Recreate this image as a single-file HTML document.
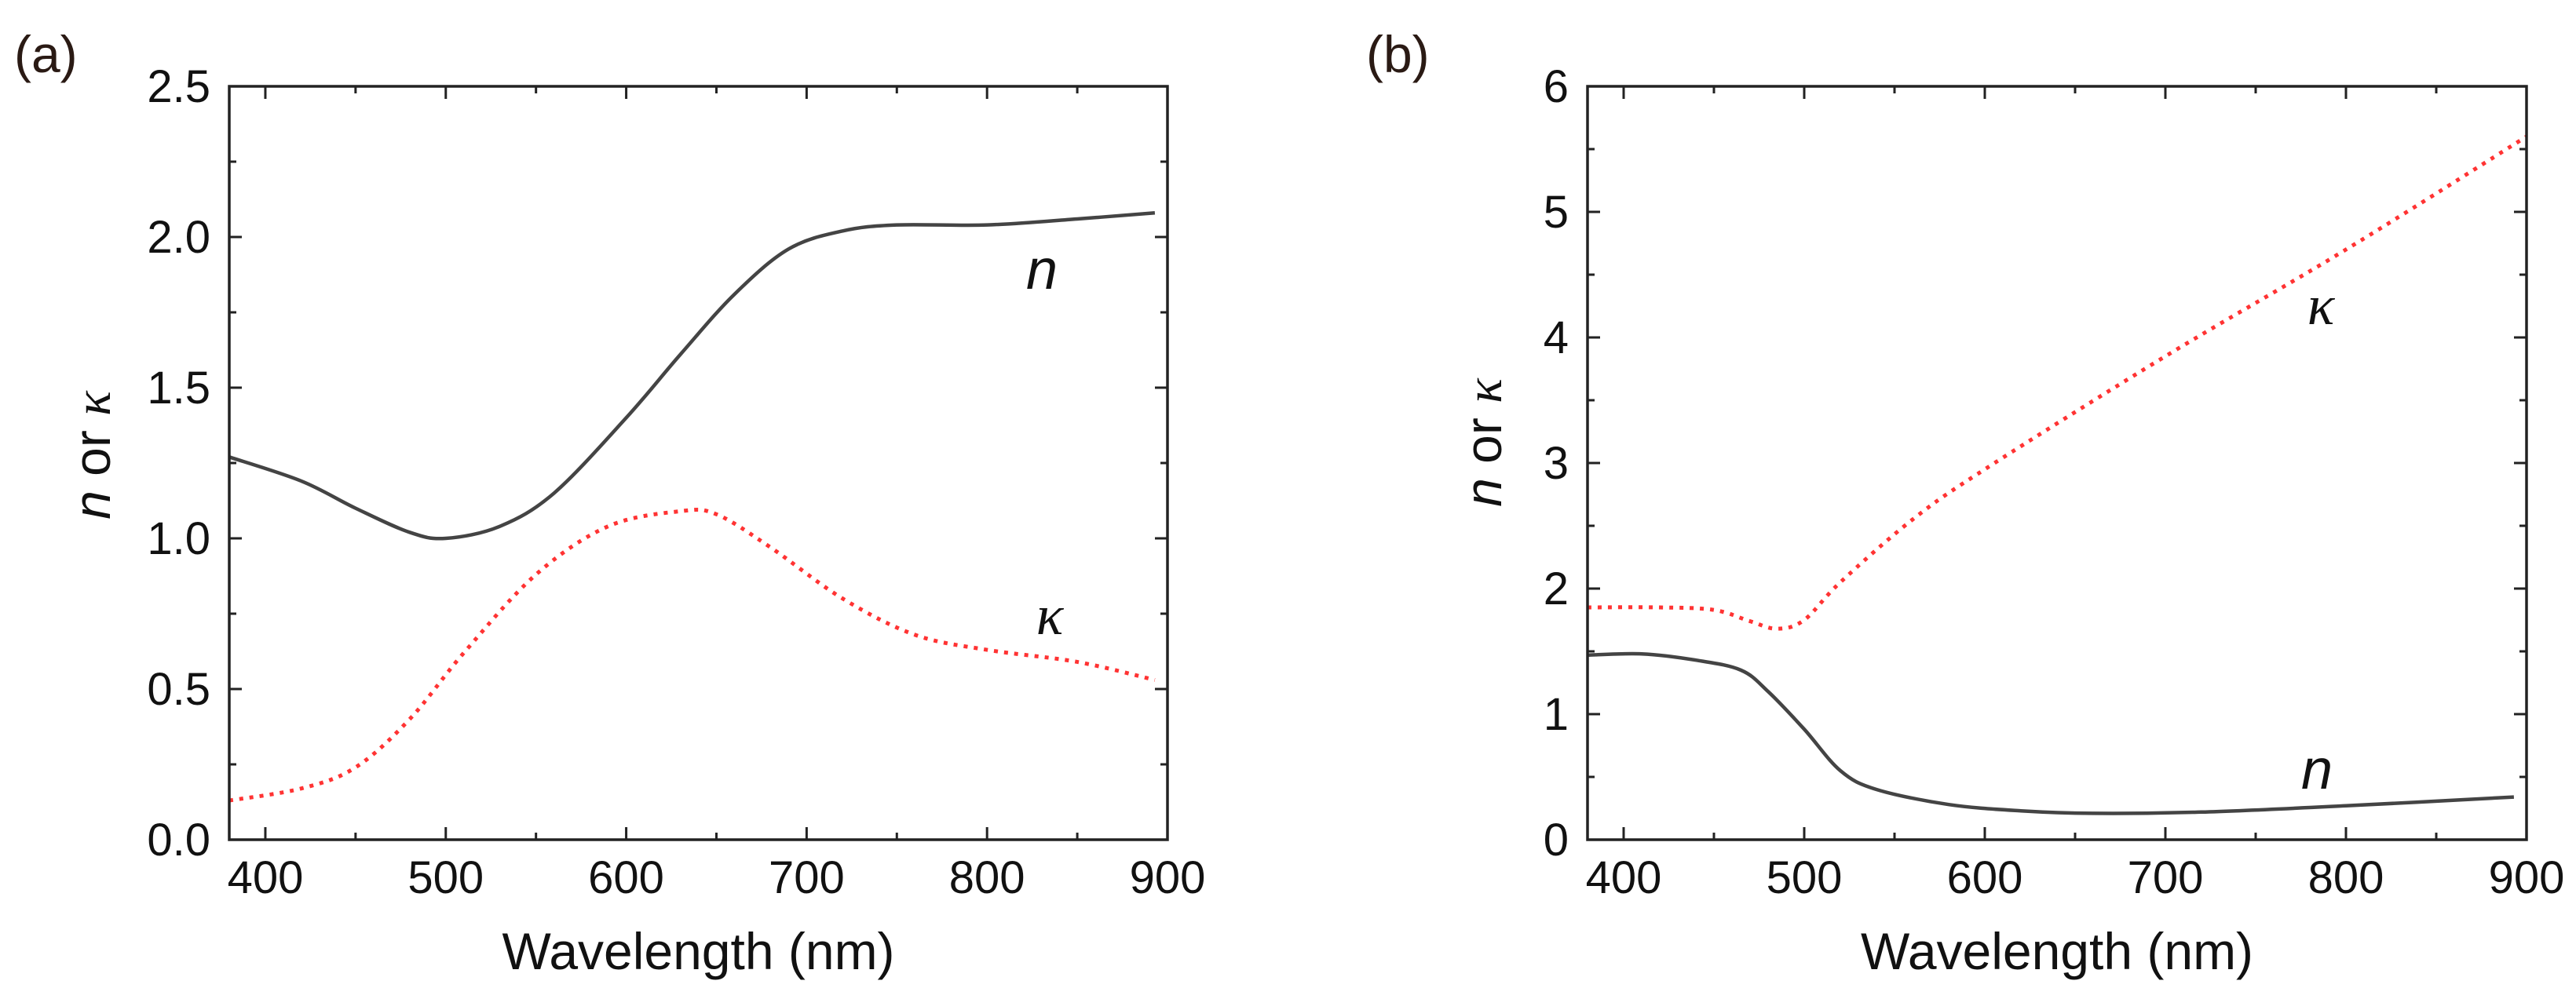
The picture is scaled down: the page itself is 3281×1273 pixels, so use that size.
<!DOCTYPE html>
<html><head><meta charset="utf-8"><style>
body{margin:0;background:#fff;}
svg{display:block;font-family:"Liberation Sans",sans-serif;}
</style></head><body>
<svg id="fig" width="3281" height="1273" viewBox="0 0 3281 1273"></svg>
<script>
// Panel (a)
const aNWl = [380,420,450,480,500,530,560,600,630,660,690,720,750,800,850,893];
const aNVal = [1.27,1.19,1.10,1.02,1.00,1.04,1.15,1.40,1.61,1.81,1.96,2.02,2.04,2.04,2.06,2.08];
const aKWl = [380,420,450,480,510,550,590,630,650,680,720,760,800,850,893];
const aKVal = [0.13,0.17,0.24,0.40,0.62,0.88,1.04,1.09,1.08,0.97,0.80,0.68,0.63,0.59,0.53];
const aYTicks = ["0.0","0.5","1.0","1.5","2.0","2.5"];
// Panel (b)
const bKWl = [380,420,450,470,485,500,520,560,600,700,800,900];
const bKVal = [1.85,1.85,1.83,1.74,1.68,1.75,2.05,2.55,2.95,3.85,4.7,5.6];
const bNWl = [380,410,440,465,480,500,520,540,580,620,660,720,800,893];
const bNVal = [1.47,1.48,1.43,1.35,1.18,0.88,0.55,0.40,0.28,0.23,0.21,0.22,0.27,0.34];
const bYTicks = ["0","1","2","3","4","5","6"];
const xTicks = [400,500,600,700,800,900];

const NS="http://www.w3.org/2000/svg";
const svg=document.getElementById('fig');
function mk(tag,attrs,parent){const e=document.createElementNS(NS,tag);for(const k in attrs)e.setAttribute(k,attrs[k]);(parent||svg).appendChild(e);return e;}
function smooth(pts){let d=`M${pts[0][0]},${pts[0][1]}`;for(let i=0;i<pts.length-1;i++){const p0=pts[Math.max(0,i-1)],p1=pts[i],p2=pts[i+1],p3=pts[Math.min(pts.length-1,i+2)];const c1=[p1[0]+(p2[0]-p0[0])/6,p1[1]+(p2[1]-p0[1])/6],c2=[p2[0]-(p3[0]-p1[0])/6,p2[1]-(p3[1]-p1[1])/6];d+=` C${c1[0]},${c1[1]} ${c2[0]},${c2[1]} ${p2[0]},${p2[1]}`;}return d;}

function panel(cfg){
  const g=mk('g',{});
  
  
  const L=cfg.left,R=cfg.right,T=110,B=1070;
  const x=v=>L+(v-380)/(900-380)*(R-L);
  const y=v=>B-v/cfg.ymax*(B-T);
  // ticks
  for(let v=400;v<=900;v+=50){const major=v%100===0,len=major?16:9;
    const t1=mk('line',{x1:x(v),x2:x(v),y1:B,y2:B-len,stroke:'#222','stroke-width':3},g);
    
    const t2=mk('line',{x1:x(v),x2:x(v),y1:T,y2:T+len,stroke:'#222','stroke-width':3},g);
    }
  for(let v=cfg.ystep/2;v<cfg.ymax;v+=cfg.ystep/2){const major=Math.abs(v/cfg.ystep-Math.round(v/cfg.ystep))<1e-6,len=major?16:9;
    const t1=mk('line',{x1:L,x2:L+len,y1:y(v),y2:y(v),stroke:'#222','stroke-width':3},g);
    
    const t2=mk('line',{x1:R,x2:R-len,y1:y(v),y2:y(v),stroke:'#222','stroke-width':3},g);
    }
  xTicks.forEach(v=>{const t=mk('text',{x:x(v),y:1138,'font-size':58,'text-anchor':'middle',fill:'#111'},g);t.textContent=v;
    });
  cfg.yticks.forEach((s,i)=>{const t=mk('text',{x:L-24,y:y(i*cfg.ystep)+20,'font-size':58,'text-anchor':'end',fill:'#111'},g);t.textContent=s;
    });
  // series
  const nP=mk('path',{d:smooth(cfg.nWl.map((w,i)=>[x(w),y(cfg.nVal[i])])),fill:'none',stroke:'#444','stroke-width':4.5},g);
  
  const kP=mk('path',{d:smooth(cfg.kWl.map((w,i)=>[x(w),y(cfg.kVal[i])])),fill:'none',stroke:'#ff3333','stroke-width':5,'stroke-dasharray':'5 8'},g);
  
  // frame
  const f=mk('rect',{x:L,y:T,width:R-L,height:B-T,fill:'none',stroke:'#222','stroke-width':3.5},g);
  
  // titles
  const xt=mk('text',{x:(L+R)/2,y:1235,'font-size':66,'text-anchor':'middle',fill:'#111'},g);xt.textContent='Wavelength (nm)';
  
  const yt=mk('text',{x:0,y:0,'font-size':66,'text-anchor':'middle',fill:'#111',transform:`translate(${cfg.ytx},${cfg.yty}) rotate(-90)`},g);
  yt.innerHTML='<tspan font-style="italic">n</tspan> or <tspan font-style="italic" font-family="Liberation Serif">κ</tspan>';
  
  const pl=mk('text',{x:cfg.plx,y:92,'font-size':66,fill:'#2a1a14'},g);pl.textContent=cfg.plabel;
  
  const nl=mk('text',{x:cfg.nlx,y:cfg.nly,'font-size':72,'font-style':'italic','text-anchor':'middle',fill:'#111'},g);nl.textContent='n';
  
  const kl=mk('text',{x:cfg.klx,y:cfg.kly,'font-size':72,'font-style':'italic','font-family':'Liberation Serif','text-anchor':'middle',fill:'#111'},g);kl.textContent='κ';
  
}
panel({name:'panel-a',left:292,right:1487,ymax:2.5,ystep:0.5,yticks:aYTicks,nWl:aNWl,nVal:aNVal,kWl:aKWl,kVal:aKVal,ytx:140,yty:580,plx:18,plabel:'(a)',nlx:1327,nly:368,klx:1337,kly:808});
panel({name:'panel-b',left:2022,right:3218,ymax:6,ystep:1,yticks:bYTicks,nWl:bNWl,nVal:bNVal,kWl:bKWl,kVal:bKVal,ytx:1912,yty:564,plx:1740,plabel:'(b)',nlx:2951,nly:1005,klx:2956,kly:413});
</script>
</body></html>
